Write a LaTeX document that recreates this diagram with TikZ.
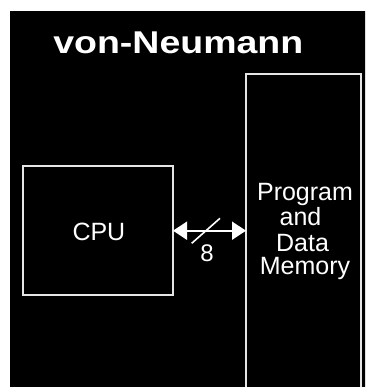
\documentclass[tikz,border=0pt]{standalone}
\usepackage{fontspec}
\setmainfont{Liberation Sans}
\usetikzlibrary{arrows.meta}
\begin{document}
\begin{tikzpicture}[x=1pt,y=-1pt,
  block/.style={draw=white!90!black, line width=1.6pt, fill=none, outer sep=0pt, inner sep=0pt},
  label/.style={text=white, font=\fontsize{25}{25}\selectfont, inner sep=0pt},
  bus/.style={draw=white, line width=2pt, {Triangle[length=14pt,width=18pt]}-{Triangle[length=14pt,width=18pt]}}
]
\useasboundingbox (0,0) rectangle (365,387);
\clip (0,0) rectangle (365,387);
% dark panel
\fill[black] (10,11) rectangle (366,388);

% title
\node[text=white, font=\fontsize{31.5}{31.5}\selectfont\bfseries, inner sep=0pt,
      anchor=base, xscale=1.19, transform shape] (title) at (178.3,53.3) {von-Neumann};

% processor and memory blocks
\node[block, minimum width=150pt, minimum height=129pt] (cpu) at (98,230.5) {};
\node[block, minimum width=115pt, minimum height=340pt] (mem) at (303.5,244) {};

\node[label, anchor=base] (cputxt) at (98.9,240) {CPU};
\node[label, anchor=base] (m1) at (305,200.7) {Program};
\node[label, anchor=base] (m2) at (300.5,225) {and};
\node[label, anchor=base] (m3) at (302.5,251.2) {Data};
\node[label, anchor=base] (m4) at (305,274) {Memory};

% 8-bit bus between them
\coordinate (busL) at (cpu.east |- 0,230.7);
\coordinate (busR) at (mem.west |- 0,230.7);
\draw[bus] (busL) -- (busR);
\draw[draw=white, line width=1.6pt] (191.7,243.3) -- (220,218.3);
\node[text=white, font=\fontsize{24}{24}\selectfont, inner sep=0pt, anchor=base] (width) at (207,261.7) {8};
\end{tikzpicture}
\end{document}
